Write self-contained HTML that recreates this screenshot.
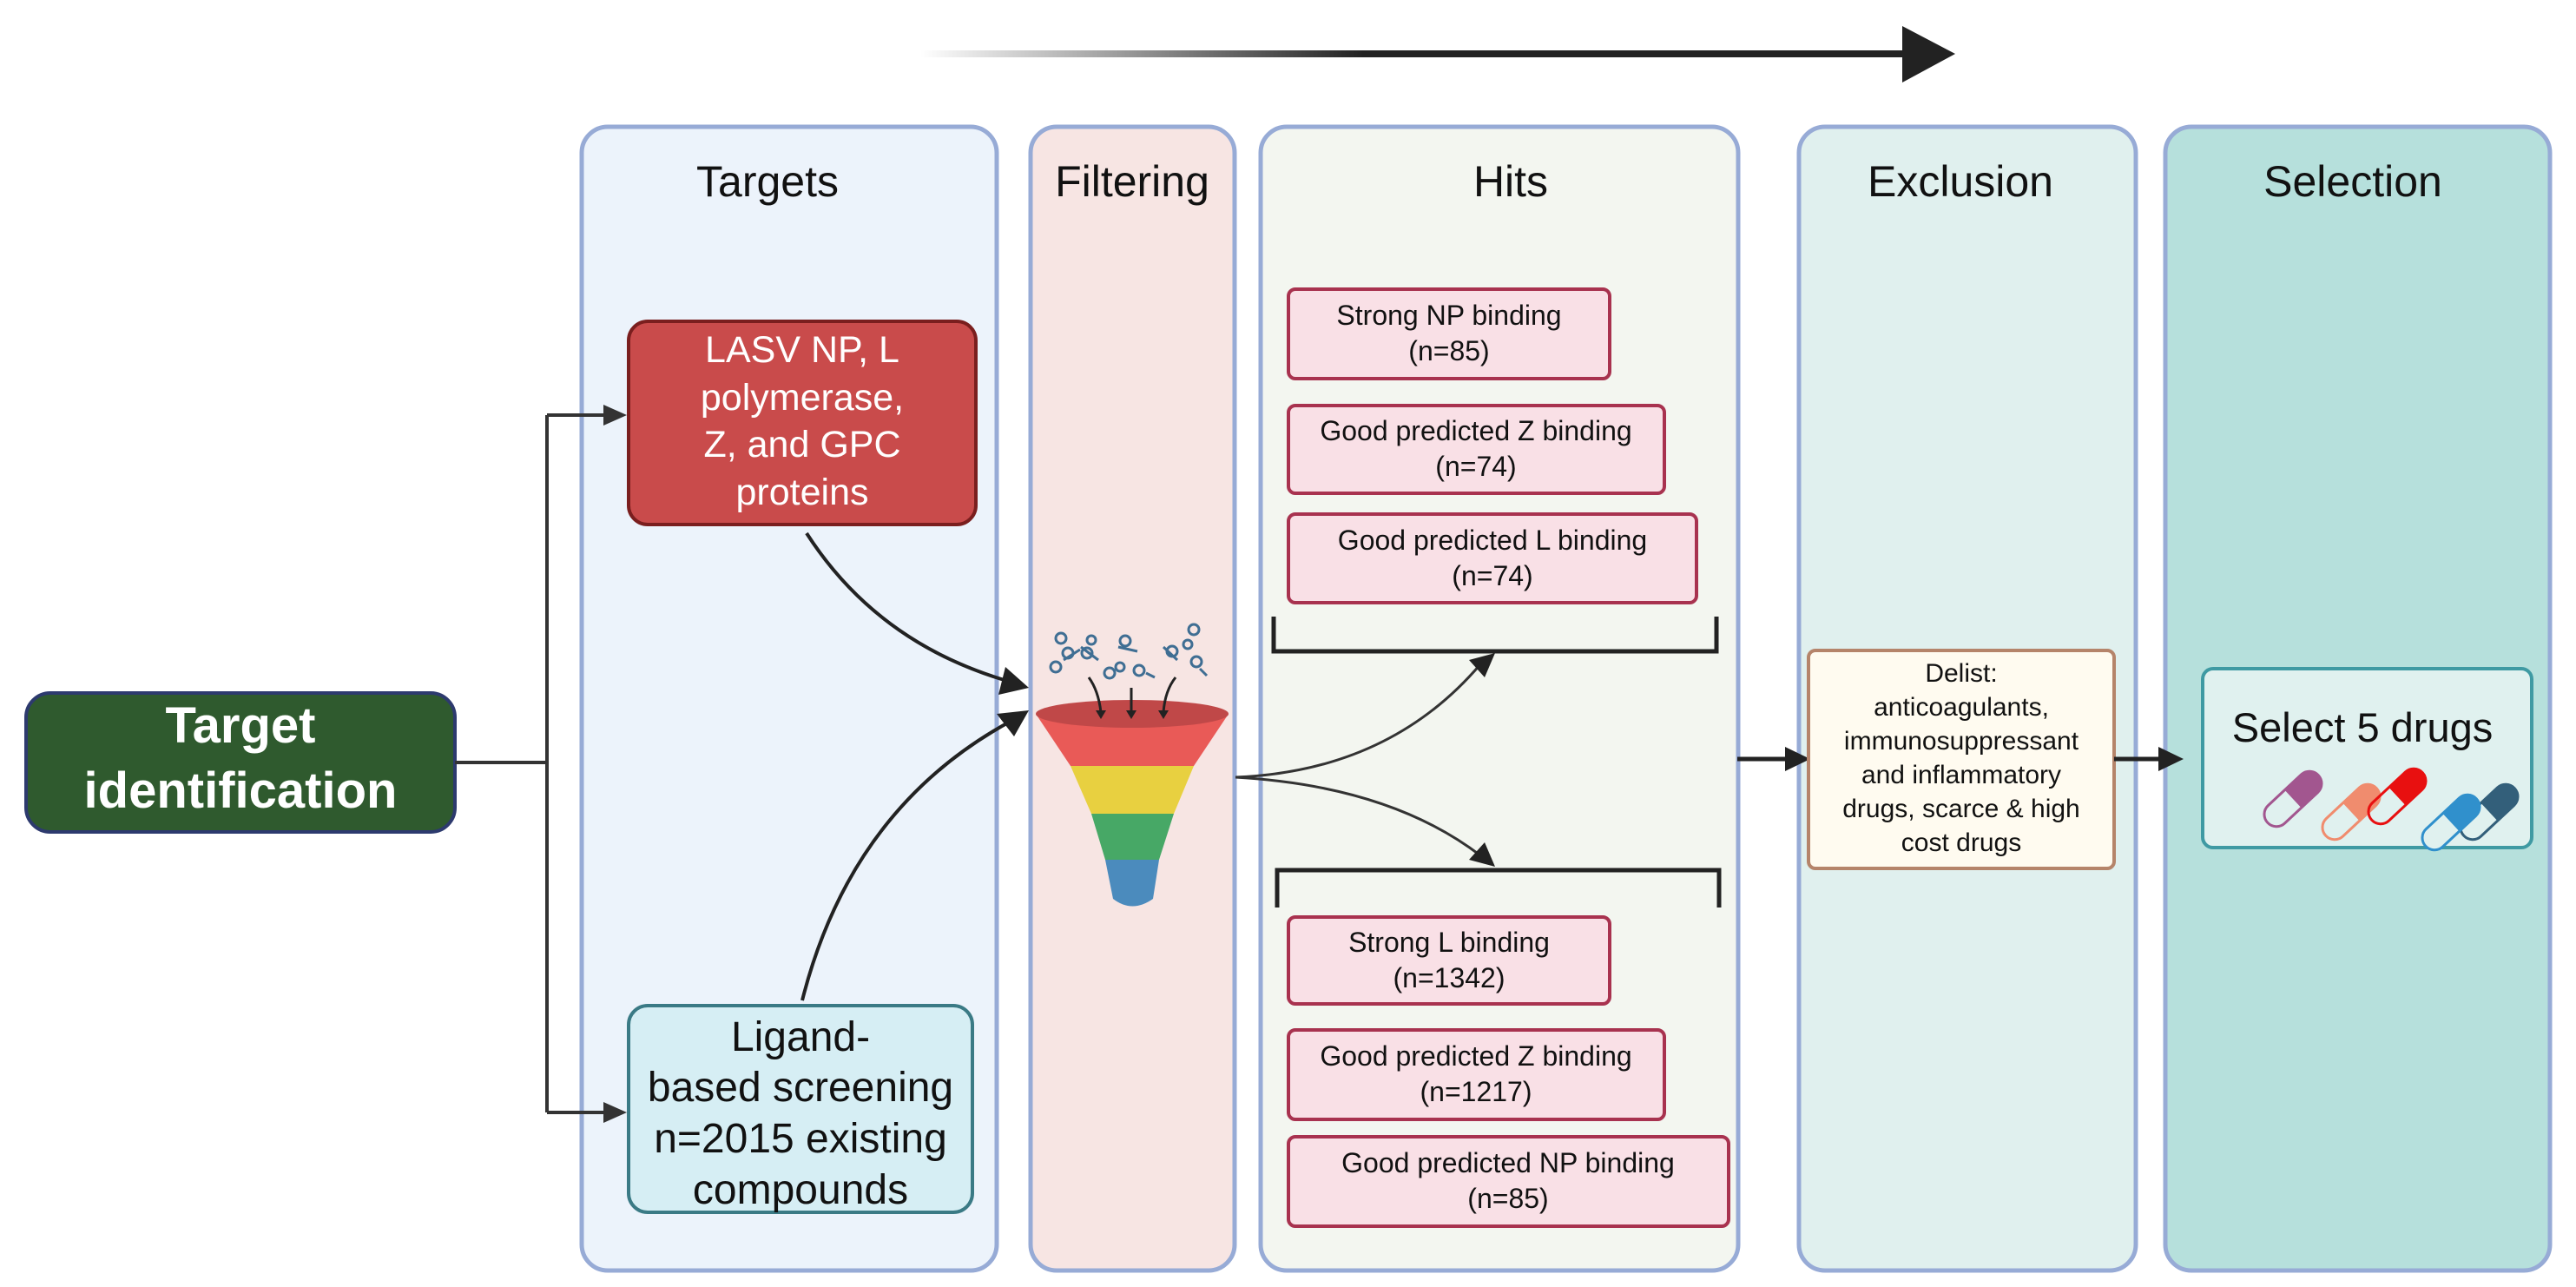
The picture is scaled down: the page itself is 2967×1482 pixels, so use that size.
<!DOCTYPE html>
<html><head><meta charset="utf-8"><style>
html,body{margin:0;padding:0;background:#fff;}
svg{display:block;}
text{font-family:"Liberation Sans",sans-serif;}
</style></head><body>
<svg width="2967" height="1482" viewBox="0 0 2967 1482" xmlns="http://www.w3.org/2000/svg">
<defs>
<linearGradient id="g" x1="0" x2="1" y1="0" y2="0">
<stop offset="0" stop-color="#222" stop-opacity="0"/>
<stop offset="0.45" stop-color="#222" stop-opacity="1"/>
<stop offset="1" stop-color="#222"/>
</linearGradient>
</defs>

<!-- top arrow -->
<rect x="1060" y="58" width="1135" height="8" fill="url(#g)"/>
<path d="M2191,30 L2252,62 L2191,95 z" fill="#222"/>

<!-- panels -->
<rect x="670" y="146" width="478" height="1317" rx="30" fill="#ecf3fb" stroke="#97abd6" stroke-width="5"/>
<rect x="1187" y="146" width="235" height="1317" rx="30" fill="#f7e5e3" stroke="#97abd6" stroke-width="5"/>
<rect x="1452" y="146" width="550" height="1317" rx="30" fill="#f3f6f0" stroke="#97abd6" stroke-width="5"/>
<rect x="2072" y="146" width="388" height="1317" rx="30" fill="#e0f0ee" stroke="#97abd6" stroke-width="5"/>
<rect x="2494" y="146" width="443" height="1317" rx="30" fill="#b6e0dc" stroke="#97abd6" stroke-width="5"/>

<g font-size="50" fill="#111" text-anchor="middle">
<text x="884" y="226">Targets</text>
<text x="1304" y="226">Filtering</text>
<text x="1740" y="226">Hits</text>
<text x="2258" y="226">Exclusion</text>
<text x="2710" y="226">Selection</text>
</g>

<!-- target identification -->
<rect x="30" y="798" width="494" height="160" rx="28" fill="#2f5a2e" stroke="#2d3a6e" stroke-width="4"/>
<g font-size="58" font-weight="bold" fill="#fff" text-anchor="middle">
<text x="277" y="855">Target</text>
<text x="277" y="930">identification</text>
</g>
<path d="M524,878 H630 M630,478 V1281" stroke="#333" stroke-width="4" fill="none"/>
<path d="M630,478 H700" stroke="#333" stroke-width="4"/>
<path d="M630,1281 H700" stroke="#333" stroke-width="4"/>
<path d="M695,466 L722,478 L695,490 z" fill="#333"/>
<path d="M695,1269 L722,1281 L695,1293 z" fill="#333"/>

<!-- red box -->
<rect x="724" y="370" width="400" height="234" rx="22" fill="#c94b4b" stroke="#7a1e1e" stroke-width="4"/>
<g font-size="43" fill="#fff" text-anchor="middle">
<text x="924" y="417">LASV NP, L</text>
<text x="924" y="472">polymerase,</text>
<text x="924" y="526">Z, and GPC</text>
<text x="924" y="581">proteins</text>
</g>
<!-- ligand box -->
<rect x="724" y="1158" width="396" height="238" rx="22" fill="#d6eef4" stroke="#3a7a85" stroke-width="4"/>
<g font-size="48" fill="#111" text-anchor="middle">
<text x="922" y="1210">Ligand-</text>
<text x="922" y="1268">based screening</text>
<text x="922" y="1327">n=2015 existing</text>
<text x="922" y="1386">compounds</text>
</g>

<!-- curves into funnel -->
<path d="M929,614 Q1010,740 1160,784" stroke="#222" stroke-width="4" fill="none"/>
<path d="M1185,792 L1150,800 L1158,768 z" fill="#222"/>
<path d="M924,1152 Q980,930 1165,830" stroke="#222" stroke-width="4" fill="none"/>
<path d="M1185,818 L1168,848 L1148,822 z" fill="#222"/>

<!-- funnel -->
<path d="M1193,822 L1233,882 L1375,882 L1415,822 z" fill="#e95a57"/>
<path d="M1233,882 L1257,937 L1352,937 L1375,882 z" fill="#e8d040"/>
<path d="M1257,937 L1273,990 L1335,990 L1352,937 z" fill="#47a866"/>
<path d="M1273,990 L1282,1035 Q1304,1052 1328,1035 L1335,990 z" fill="#4b8bbd"/>
<ellipse cx="1304" cy="822" rx="111" ry="16" fill="#c04848"/>
<g stroke="#222" stroke-width="3" fill="none">
<path d="M1254,780 Q1265,795 1268,820"/><path d="M1303,792 L1303,820"/><path d="M1354,780 Q1342,795 1340,820"/>
</g>
<g fill="#222"><path d="M1262,818 L1274,818 L1268,828z"/><path d="M1297,818 L1309,818 L1303,828z"/><path d="M1334,818 L1346,818 L1340,828z"/></g>
<g stroke="#3f6e93" stroke-width="3" fill="none">
<circle cx="1222" cy="735" r="6"/><circle cx="1230" cy="752" r="6"/><circle cx="1216" cy="768" r="6"/><path d="M1225,760 L1244,748"/>
<circle cx="1252" cy="752" r="6"/><circle cx="1257" cy="737" r="5"/><path d="M1245,745 L1265,760"/>
<circle cx="1296" cy="738" r="6"/><path d="M1288,745 L1310,750"/><circle cx="1278" cy="775" r="6"/><circle cx="1290" cy="768" r="5"/><circle cx="1312" cy="772" r="6"/><path d="M1320,775 L1330,780"/>
<circle cx="1350" cy="750" r="6"/><path d="M1340,745 L1356,760"/><circle cx="1375" cy="725" r="6"/><circle cx="1368" cy="742" r="5"/><circle cx="1378" cy="762" r="6"/><path d="M1382,770 L1390,778"/>
</g>

<!-- hits boxes -->
<g fill="#f9e0e6" stroke="#a8324f" stroke-width="4">
<rect x="1484" y="333" width="370" height="103" rx="8"/>
<rect x="1484" y="467" width="433" height="101" rx="8"/>
<rect x="1484" y="592" width="470" height="102" rx="8"/>
<rect x="1484" y="1056" width="370" height="100" rx="8"/>
<rect x="1484" y="1186" width="433" height="103" rx="8"/>
<rect x="1484" y="1309" width="507" height="103" rx="8"/>
</g>
<g font-size="32" fill="#111" text-anchor="middle">
<text x="1669" y="374">Strong NP binding</text><text x="1669" y="415">(n=85)</text>
<text x="1700" y="507">Good predicted Z binding</text><text x="1700" y="548">(n=74)</text>
<text x="1719" y="633">Good predicted L  binding</text><text x="1719" y="674">(n=74)</text>
<text x="1669" y="1096">Strong L binding</text><text x="1669" y="1137">(n=1342)</text>
<text x="1700" y="1227">Good predicted Z binding</text><text x="1700" y="1268">(n=1217)</text>
<text x="1737" y="1350">Good predicted NP binding</text><text x="1737" y="1391">(n=85)</text>
</g>
<!-- brackets -->
<path d="M1467,710 V750 H1977 V710" stroke="#222" stroke-width="5" fill="none"/>
<path d="M1471,1045 V1002 H1980 V1045" stroke="#222" stroke-width="5" fill="none"/>
<!-- split curves -->
<path d="M1423,895 Q1600,888 1705,765" stroke="#333" stroke-width="3" fill="none"/>
<path d="M1722,752 L1710,780 L1692,760 z" fill="#222"/>
<path d="M1423,895 Q1600,905 1705,985" stroke="#333" stroke-width="3" fill="none"/>
<path d="M1722,998 L1692,990 L1710,970 z" fill="#222"/>

<!-- exclusion -->
<path d="M2001,874 H2060" stroke="#222" stroke-width="5"/>
<path d="M2056,860 L2085,874 L2056,888 z" fill="#222"/>
<rect x="2083" y="749" width="352" height="251" rx="8" fill="#fffbf0" stroke="#b5846a" stroke-width="4"/>
<g font-size="30" fill="#111" text-anchor="middle">
<text x="2259" y="785">Delist:</text>
<text x="2259" y="824">anticoagulants,</text>
<text x="2259" y="863">immunosuppressant</text>
<text x="2259" y="902">and inflammatory</text>
<text x="2259" y="941">drugs, scarce &amp; high</text>
<text x="2259" y="980">cost drugs</text>
</g>
<path d="M2435,874 H2490" stroke="#222" stroke-width="5"/>
<path d="M2486,860 L2515,874 L2486,888 z" fill="#222"/>

<!-- select -->
<rect x="2537" y="770" width="379" height="206" rx="12" fill="#e0f1ef" stroke="#3f9aa3" stroke-width="4"/>
<text x="2721" y="854" font-size="47" fill="#111" text-anchor="middle">Select 5 drugs</text>
<g transform="translate(2641,920) rotate(-43)">
<rect x="-40" y="-14" width="80" height="28" rx="14" fill="none" stroke="#a2568f" stroke-width="3"/><path d="M0,-14 H26 A14,14 0 0 1 26,14 H0 z" fill="#a2568f"/></g>
<g transform="translate(2708,935) rotate(-43)">
<rect x="-40" y="-14" width="80" height="28" rx="14" fill="none" stroke="#f08c6e" stroke-width="3"/><path d="M0,-14 H26 A14,14 0 0 1 26,14 H0 z" fill="#f08c6e"/></g>
<g transform="translate(2761,917) rotate(-43)">
<rect x="-40" y="-14" width="80" height="28" rx="14" fill="none" stroke="#e81010" stroke-width="3"/><path d="M0,-14 H26 A14,14 0 0 1 26,14 H0 z" fill="#e81010"/></g>
<g transform="translate(2867,935) rotate(-43)">
<rect x="-40" y="-14" width="80" height="28" rx="14" fill="none" stroke="#335f7a" stroke-width="3"/><path d="M0,-14 H26 A14,14 0 0 1 26,14 H0 z" fill="#335f7a"/></g>
<g transform="translate(2823,947) rotate(-43)">
<rect x="-40" y="-14" width="80" height="28" rx="14" fill="#e0f1ef" stroke="#3090cc" stroke-width="3"/><path d="M0,-14 H26 A14,14 0 0 1 26,14 H0 z" fill="#3090cc"/></g>
</svg>
</body></html>
